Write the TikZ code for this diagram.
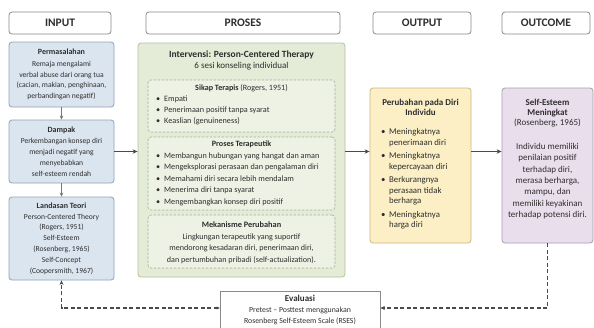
\documentclass[tikz,border=0pt]{standalone}
\usepackage{fontspec}
\setmainfont{Carlito}
\usetikzlibrary{arrows.meta}
\definecolor{lbfill}{HTML}{DBE5F0}
\definecolor{lbdraw}{HTML}{8FA2B8}
\definecolor{gfill}{HTML}{E4EBD6}
\definecolor{gdraw}{HTML}{B5C2A2}
\definecolor{sfill}{HTML}{EDF2E5}
\definecolor{sdraw}{HTML}{A5B198}
\definecolor{yfill}{HTML}{FCEFC6}
\definecolor{ydraw}{HTML}{CDB87E}
\definecolor{pfill}{HTML}{E9DEEC}
\definecolor{pdraw}{HTML}{A99DB0}
\definecolor{hdraw}{HTML}{8A8A8A}
\definecolor{arr}{HTML}{4A4A4A}
\definecolor{arrl}{HTML}{777777}
\definecolor{txt}{HTML}{2E2E2E}
\tikzset{
  every node/.style={text=txt},
  hbox/.style={draw=hdraw, fill=white, line width=0.8pt, rounded corners=3pt, minimum height=22pt, inner sep=0pt, font=\fontsize{11.5}{13}\selectfont\bfseries},
  lbox/.style={draw=lbdraw, fill=lbfill, line width=0.8pt, rounded corners=3pt, align=center, inner sep=0pt, minimum width=105pt, font=\fontsize{7.6}{10.8}\selectfont},
  gbox/.style={draw=gdraw, fill=gfill, line width=0.8pt, rounded corners=3pt, inner sep=0pt},
  sbox/.style={draw=sdraw, fill=sfill, dash pattern=on 2.5pt off 1.5pt, line width=0.6pt, rounded corners=3pt, inner sep=0pt, minimum width=187pt},
  ybox/.style={draw=ydraw, fill=yfill, line width=0.8pt, rounded corners=3pt, inner sep=0pt},
  pbox/.style={draw=pdraw, fill=pfill, line width=0.8pt, rounded corners=3pt, inner sep=0pt},
  ebox/.style={draw=hdraw, fill=white, line width=0.7pt, inner sep=0pt},
  tl/.style={inner sep=0pt, align=left},
  tc/.style={inner sep=0pt, align=center},
  flow/.style={-{Stealth[length=5pt,width=4.5pt]}, line width=1.3pt, draw=arr},
  downarr/.style={-{Stealth[length=4pt,width=3.5pt]}, line width=0.9pt, draw=arrl},
  fback/.style={-{Stealth[length=4.5pt,width=4pt]}, line width=1.1pt, draw=arr, dash pattern=on 4pt off 2.5pt},
  fbackboth/.style={{Stealth[length=3pt,width=3pt]}-{Stealth[length=4.5pt,width=4pt]}, line width=1.1pt, draw=arr, dash pattern=on 4pt off 2.5pt},
}
\newcommand{\bul}{\makebox[8pt][l]{\textbullet}}
\newcommand{\ind}{\hspace*{8pt}}
\begin{document}
\begin{tikzpicture}[x=1pt,y=-1pt]
\path[fill=white, use as bounding box] (0,0) rectangle (594,327);

% headers
\node[hbox, minimum width=102pt] (hin) at (60,23) {INPUT};
\node[hbox, minimum width=194pt] (hpr) at (243,23) {PROSES};
\node[hbox, minimum width=98pt] (hout) at (422,23) {OUTPUT};
\node[hbox, minimum width=88pt] (hoc) at (546,23) {OUTCOME};

% input column
\node[lbox, minimum height=65pt] (perm) at (61.5,74.5)
  {{\fontsize{8}{10}\selectfont\bfseries Permasalahan}\\[1pt]
   Remaja mengalami\\verbal abuse dari orang tua\\(cacian, makian, penghinaan,\\perbandingan negatif)};
\node[lbox, minimum height=63pt] (damp) at (61.5,151.5)
  {{\fontsize{8}{10}\selectfont\bfseries Dampak}\\[1pt]
   Perkembangan konsep diri\\menjadi negatif yang\\menyebabkan\\self-esteem rendah};
\node[lbox, minimum height=83pt] (land) at (61.5,238.5)
  {{\fontsize{8}{10}\selectfont\bfseries Landasan Teori}\\
   Person-Centered Theory\\(Rogers, 1951)\\Self-Esteem\\(Rosenberg, 1965)\\Self-Concept\\(Coopersmith, 1967)};

% proses
\node[gbox, minimum width=207pt, minimum height=234pt] (green) at (241.5,160) {};
\node[inner sep=0pt, anchor=base, font=\fontsize{9.5}{10}\selectfont\bfseries] (gtitle) at (241.5,57.6) {Intervensi: Person-Centered Therapy};
\node[inner sep=0pt, anchor=base, font=\fontsize{9}{10}\selectfont] (gsub) at (241.5,68) {6 sesi konseling individual};

\node[sbox, minimum height=52pt] (sikap) at (241.5,106) {};
\node[inner sep=0pt, anchor=base, font=\fontsize{8.1}{10}\selectfont] (sikaph) at (241.5,90.7) {\textbf{Sikap Terapis} (Rogers, 1951)};
\node[tl, anchor=north west, font=\fontsize{8.2}{11}\selectfont] (sikapl) at (156,95.6)
  {\bul Empati\\\bul Penerimaan positif tanpa syarat\\\bul Keaslian (genuineness)};

\node[sbox, minimum height=73pt] (proses) at (241.5,173.5) {};
\node[inner sep=0pt, anchor=base, font=\fontsize{8.1}{10}\selectfont\bfseries] (prosesh) at (241.5,146.7) {Proses Terapeutik};
\node[tl, anchor=north west, font=\fontsize{8.2}{11.5}\selectfont] (prosesl) at (156,152.6)
  {\bul Membangun hubungan yang hangat dan aman\\\bul Mengeksplorasi perasaan dan pengalaman diri\\\bul Memahami diri secara lebih mendalam\\\bul Menerima diri tanpa syarat\\\bul Mengembangkan konsep diri positif};

\node[sbox, minimum height=53pt] (meka) at (241.5,241.5) {};
\node[inner sep=0pt, anchor=base, font=\fontsize{8.3}{10}\selectfont\bfseries] (mekah) at (241.5,227.7) {Mekanisme Perubahan};
\node[tc, anchor=north, font=\fontsize{8.1}{11.5}\selectfont] (mekal) at (241.5,233.6)
  {Lingkungan terapeutik yang suportif\\mendorong kesadaran diri, penerimaan diri,\\dan pertumbuhan pribadi (self-actualization).};

% output
\node[ybox, minimum width=101pt, minimum height=155pt] (outp) at (420.5,165.5) {};
\node[tc, anchor=north, font=\fontsize{9}{10}\selectfont\bfseries] (outpt) at (420.5,99.2) {Perubahan pada Diri\\Individu};
\node[tl, anchor=north west, font=\fontsize{8.8}{10.7}\selectfont] (outpl) at (381,128.3)
  {\bul Meningkatnya\\\ind penerimaan diri\\[2.5pt]
   \bul Meningkatnya\\\ind kepercayaan diri\\[2.5pt]
   \bul Berkurangnya\\\ind perasaan tidak\\\ind berharga\\[2.5pt]
   \bul Meningkatnya\\\ind harga diri};

% outcome
\node[pbox, minimum width=91pt, minimum height=155pt] (outc) at (547.5,165.5) {};
\node[tc, anchor=north, font=\fontsize{9}{10}\selectfont] (outct) at (547.5,99.2)
  {\textbf{Self-Esteem}\\\textbf{Meningkat}\\(Rosenberg, 1965)};
\node[tc, anchor=north, font=\fontsize{9}{11.3}\selectfont] (outcb) at (547.5,143.2)
  {Individu memiliki\\penilaian positif\\terhadap diri,\\merasa berharga,\\mampu, dan\\memiliki keyakinan\\terhadap potensi diri.};

% evaluasi
\node[ebox, minimum width=160pt, minimum height=38pt] (eval) at (300,310) {};
\node[inner sep=0pt, anchor=base, font=\fontsize{9}{10}\selectfont\bfseries] (evalt) at (300,301.5) {Evaluasi};
\node[tc, anchor=north, font=\fontsize{7.8}{11}\selectfont] (evalb) at (300,306.8)
  {Pretest -- Posttest menggunakan\\Rosenberg Self-Esteem Scale (RSES)};

% connectors
\draw[downarr] (perm) -- (damp);
\draw[downarr] (damp) -- (land);
\draw[flow] (damp.east) -- (damp.east -| green.west);
\draw[flow] (damp.east -| green.east) -- (damp.east -| outp.west);
\draw[flow] (damp.east -| outp.east) -- (damp.east -| outc.west);
\coordinate (ev) at (0,308);
\draw[fback] (outc.south) -- (outc.south |- ev) -- (eval.east |- ev);
\draw[fbackboth] (eval.west |- ev) -- (land.south |- ev) -- (land.south);
\end{tikzpicture}
\end{document}
